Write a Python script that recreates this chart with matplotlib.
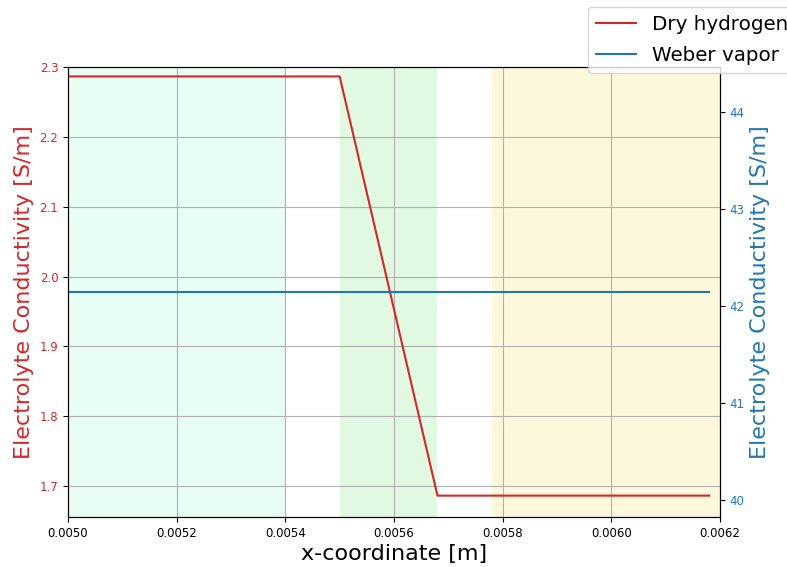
import matplotlib
matplotlib.use('Agg')
import matplotlib.pyplot as plt

# Conductivity profiles across the membrane region
x_dry = [0.0050, 0.0055, 0.00568, 0.00618]
sigma_dry = [2.2865, 2.2865, 1.6863, 1.6863]

x_weber = [0.0050, 0.00618]
sigma_weber = [42.15, 42.15]

# Layer regions (start, end, colour)
regions = [
    (0.0050, 0.0054, '#e8fdf3'),
    (0.0055, 0.00568, '#e1f8e1'),
    (0.00578, 0.0062, '#fdf7dc'),
]

red = '#d62728'
blue = '#1f77b4'

fig = plt.figure(figsize=(7.87, 5.67), dpi=100)
ax1 = fig.add_axes([68 / 787, 1 - 517 / 567, 652 / 787, 450 / 567])

for x0, x1, c in regions:
    ax1.axvspan(x0, x1, color=c, lw=0, zorder=0)

l1, = ax1.plot(x_dry, sigma_dry, color=red, lw=1.5, label='Dry hydrogen')
ax1.set_xlim(0.0050, 0.0062)
ax1.set_ylim(1.6557, 2.30)
ax1.set_xticks([0.0050, 0.0052, 0.0054, 0.0056, 0.0058, 0.0060, 0.0062])
ax1.set_xticklabels(['0.0050', '0.0052', '0.0054', '0.0056', '0.0058', '0.0060', '0.0062'])
ax1.set_yticks([1.7, 1.8, 1.9, 2.0, 2.1, 2.2, 2.3])
ax1.tick_params(axis='x', labelsize=8.5)
ax1.tick_params(axis='y', labelsize=8.5, labelcolor=red)
ax1.set_xlabel('x-coordinate [m]', fontsize=16, labelpad=3)
ax1.set_ylabel('Electrolyte Conductivity [S/m]', fontsize=16, color=red)
ax1.grid(True)

ax2 = ax1.twinx()
l2, = ax2.plot(x_weber, sigma_weber, color=blue, lw=1.5, label='Weber vapor')
ax2.set_ylim(39.828, 44.468)
ax2.set_yticks([40, 41, 42, 43, 44])
ax2.tick_params(axis='y', labelsize=8.5, labelcolor=blue)
ax2.set_ylabel('Electrolyte Conductivity [S/m]', fontsize=16, color=blue)

fig.legend(handles=[l1, l2], loc='upper left', bbox_to_anchor=(588 / 787, 1 - 7 / 567),
           fontsize=14.3, labelspacing=0.6, borderaxespad=0)

fig.savefig('out.png', dpi=100)
